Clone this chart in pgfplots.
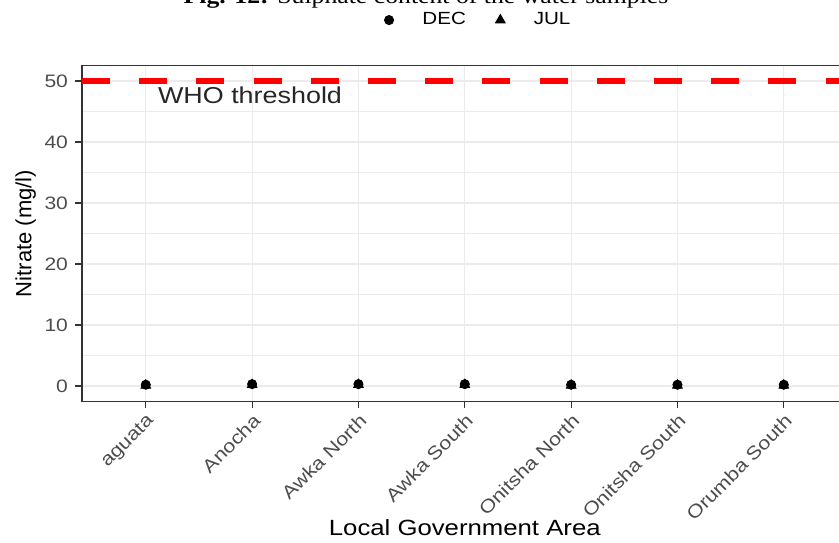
\documentclass[border=0pt]{standalone}
\usepackage{fontspec}
\setmainfont{Liberation Sans}[FakeStretch=1.17]
\newfontfamily\plainsans{Liberation Sans}
\newfontfamily\titleserif{Liberation Serif}[FakeStretch=1.17]
\usepackage{pgfplots}
\pgfplotsset{compat=1.18}
\definecolor{gridgrey}{HTML}{EBEBEB}
\definecolor{bordergrey}{HTML}{333333}
\definecolor{ticktext}{HTML}{4D4D4D}

\begin{document}
\begin{tikzpicture}
\node[anchor=base, font=\titleserif\fontsize{11}{13}\selectfont] at (213pt,269pt)
  {\textbf{Fig. 12:} Sulphate content of the water samples};
\begin{axis}[
    at={(41pt,70.4pt)}, anchor=south west,
    scale only axis, width=382.8pt, height=167.75pt,
    xmin=-0.6, xmax=6.6, ymin=-2.5, ymax=52.5,
    xtick={0,...,6},
    xticklabels={aguata,Anocha,Awka North,Awka South,Onitsha North,Onitsha South,Orumba South},
    ytick={0,10,...,50},
    minor ytick={5,15,...,45},
    grid=both,
    major grid style={gridgrey, line width=0.6pt},
    minor grid style={gridgrey, line width=0.3pt},
    axis line style={bordergrey, line width=0.7pt},
    tick align=outside, tick pos=left,
    major tick length=3.5pt, minor tick length=0pt,
    tick style={bordergrey, line width=0.6pt},
    /pgf/number format/assume math mode=true,
    xticklabel style={rotate=45, anchor=north east, inner sep=1.5pt,
        font=\fontsize{9.2}{10}\selectfont, text=ticktext},
    yticklabel style={font=\fontsize{9}{10}\selectfont, text=ticktext},
    xlabel={Local Government Area},
    xlabel style={font=\fontsize{11}{13}\selectfont,
        at={(axis description cs:0.5,-0.399)}, anchor=base},
    ylabel={Nitrate (mg/l)},
    ylabel style={font=\plainsans\fontsize{11}{13}\selectfont,
        at={(axis description cs:-0.066,0.5)}, anchor=base},
    legend columns=2,
    legend style={at={(axis description cs:0.514,1.136)}, anchor=center,
        draw=none, fill=none, font=\fontsize{8.8}{10}\selectfont,
        /tikz/every even column/.append style={column sep=9pt}},
    legend image code/.code={\draw[#1] plot coordinates {(0pt,0pt)};
        \path (-6pt,0pt) (14.5pt,0pt);},
]
% WHO threshold line
\addplot[forget plot, red, line width=2.7pt, dash pattern=on 14pt off 14.6pt]
    coordinates {(-0.6,50) (6.6,50)};
\node[font=\fontsize{11.5}{13}\selectfont, text=black!85] at (axis cs:0.98,47.6) {WHO threshold};

% DEC
\addplot[only marks, mark=*, mark size=2.3pt, black]
    coordinates {(0,0.2) (1,0.3) (2,0.3) (3,0.3) (4,0.2) (5,0.2) (6,0.2)};
\addlegendentry{DEC}
% JUL
\addplot[only marks, mark=triangle*, mark size=2.8pt, black]
    coordinates {(0,0.1) (1,0.2) (2,0.2) (3,0.2) (4,0.1) (5,0.1) (6,0.1)};
\addlegendentry{JUL}
\end{axis}
\pgfresetboundingbox
\useasboundingbox (0,0) rectangle (419.5pt,271pt);
\end{tikzpicture}
\end{document}
